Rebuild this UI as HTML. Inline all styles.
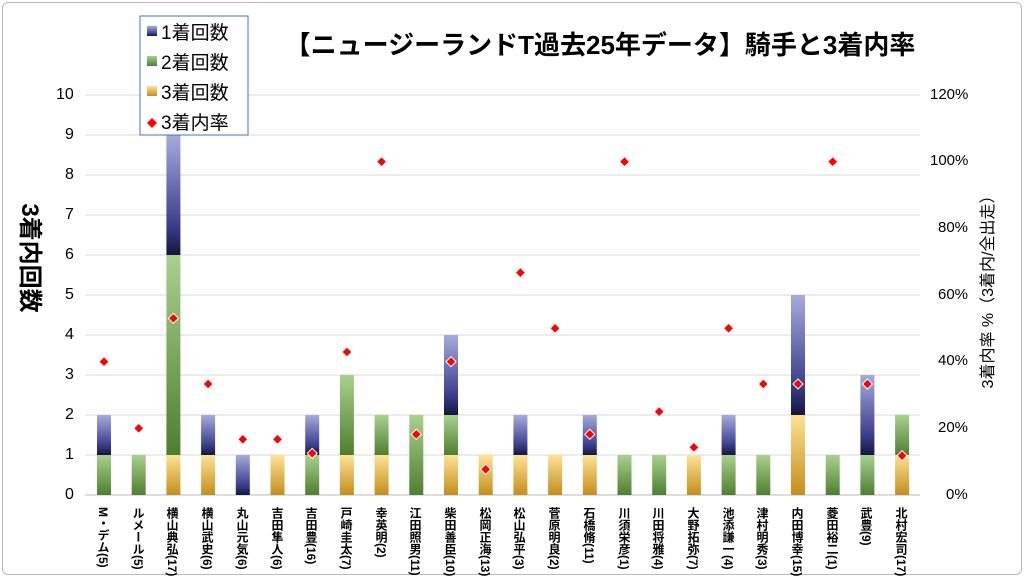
<!DOCTYPE html>
<html><head><meta charset="utf-8"><style>
body{margin:0;background:#fff;}
#w{position:relative;width:1024px;height:577px;overflow:hidden;font-family:"Liberation Sans","Noto Sans CJK JP",sans-serif;}
.fr{position:absolute;left:2px;top:2px;width:1018px;height:571px;border:1px solid #bbb;border-radius:6px;}
.lb{position:absolute;top:507px;writing-mode:vertical-rl;font-size:12px;font-weight:bold;line-height:14px;width:14px;color:#000;white-space:nowrap;}
.yl{position:absolute;font-size:16px;color:#000;}
.yr{position:absolute;font-size:15px;color:#000;}
</style></head><body><div id="w">
<div class="fr"></div>
<svg id="s" width="1024" height="577" style="position:absolute;left:0;top:0">
<defs>
<linearGradient id="g1" x1="0" y1="0" x2="0" y2="1"><stop offset="0" stop-color="#a6abdc"/><stop offset="0.75" stop-color="#3a3f8c"/><stop offset="1" stop-color="#15163e"/></linearGradient>
<linearGradient id="g2" x1="0" y1="0" x2="0" y2="1"><stop offset="0" stop-color="#a8d18e"/><stop offset="1" stop-color="#4e7e30"/></linearGradient>
<linearGradient id="g3" x1="0" y1="0" x2="0" y2="1"><stop offset="0" stop-color="#ffe294"/><stop offset="1" stop-color="#c38e1c"/></linearGradient>
</defs>
<g id="grid"></g><g id="bars"></g><g id="mk"></g>
<text x="600" y="54" font-size="26" font-weight="bold" text-anchor="middle" font-family="Liberation Sans,Noto Sans CJK JP,sans-serif">【ニュージーランドT過去25年データ】騎手と3着内率</text>
<text transform="translate(22,258) rotate(90)" font-size="24" font-weight="bold" text-anchor="middle" font-family="Liberation Sans,Noto Sans CJK JP,sans-serif">3着内回数</text>
<text transform="translate(993,288) rotate(-90)" font-size="16" text-anchor="middle" font-family="Liberation Sans,Noto Sans CJK JP,sans-serif">3着内率 %（3着内/全出走）</text>
<rect x="140" y="16" width="108" height="119" fill="#fff" stroke="#4472c4" stroke-width="1"/>
<rect x="147" y="26" width="10" height="10" fill="url(#g1)"/><text x="161" y="39" font-size="19" font-family="Liberation Sans,Noto Sans CJK JP,sans-serif">1着回数</text>
<rect x="147" y="56" width="10" height="10" fill="url(#g2)"/><text x="161" y="69" font-size="19" font-family="Liberation Sans,Noto Sans CJK JP,sans-serif">2着回数</text>
<rect x="147" y="86" width="10" height="10" fill="url(#g3)"/><text x="161" y="99" font-size="19" font-family="Liberation Sans,Noto Sans CJK JP,sans-serif">3着回数</text>
<polygon points="152,118 157,123 152,128 147,123" fill="#f00"/><text x="161" y="129" font-size="19" font-family="Liberation Sans,Noto Sans CJK JP,sans-serif">3着内率</text>
</svg>
<div class="yl" style="left:56px;top:86px">10</div>
<div class="yl" style="left:65px;top:126px">9</div>
<div class="yl" style="left:65px;top:166px">8</div>
<div class="yl" style="left:65px;top:206px">7</div>
<div class="yl" style="left:65px;top:246px">6</div>
<div class="yl" style="left:65px;top:286px">5</div>
<div class="yl" style="left:65px;top:326px">4</div>
<div class="yl" style="left:65px;top:366px">3</div>
<div class="yl" style="left:65px;top:406px">2</div>
<div class="yl" style="left:65px;top:446px">1</div>
<div class="yl" style="left:65px;top:486px">0</div>
<div class="yr" style="left:930px;top:86px">120%</div>
<div class="yr" style="left:930px;top:152px">100%</div>
<div class="yr" style="left:938px;top:219px">80%</div>
<div class="yr" style="left:938px;top:286px">60%</div>
<div class="yr" style="left:938px;top:352px">40%</div>
<div class="yr" style="left:938px;top:419px">20%</div>
<div class="yr" style="left:946px;top:486px">0%</div>
<div class="lb" style="left:96px">M・デム(5)</div>
<div class="lb" style="left:131px">ルメール(5)</div>
<div class="lb" style="left:165px">横山典弘(17)</div>
<div class="lb" style="left:200px">横山武史(6)</div>
<div class="lb" style="left:235px">丸山元気(6)</div>
<div class="lb" style="left:270px">吉田隼人(6)</div>
<div class="lb" style="left:304px">吉田豊(16)</div>
<div class="lb" style="left:339px">戸崎圭太(7)</div>
<div class="lb" style="left:374px">幸英明(2)</div>
<div class="lb" style="left:408px">江田照男(11)</div>
<div class="lb" style="left:443px">柴田善臣(10)</div>
<div class="lb" style="left:478px">松岡正海(13)</div>
<div class="lb" style="left:512px">松山弘平(3)</div>
<div class="lb" style="left:547px">菅原明良(2)</div>
<div class="lb" style="left:582px">石橋脩(11)</div>
<div class="lb" style="left:617px">川須栄彦(1)</div>
<div class="lb" style="left:651px">川田将雅(4)</div>
<div class="lb" style="left:686px">大野拓弥(7)</div>
<div class="lb" style="left:721px">池添謙一(4)</div>
<div class="lb" style="left:755px">津村明秀(3)</div>
<div class="lb" style="left:790px">内田博幸(15)</div>
<div class="lb" style="left:825px">菱田裕二(1)</div>
<div class="lb" style="left:859px">武豊(9)</div>
<div class="lb" style="left:894px">北村宏司(17)</div>
</div>
<script>
var d=[[0,1,1,40],[0,1,0,20],[1,5,3,53],[1,0,1,33.3],[0,0,1,16.7],[1,0,0,16.7],[0,1,1,12.5],[1,2,0,42.9],[1,1,0,100],[0,2,0,18.2],[1,1,2,40],[1,0,0,7.7],[1,0,1,66.7],[1,0,0,50],[1,0,1,18.2],[0,1,0,100],[0,1,0,25],[1,0,0,14.3],[0,1,1,50],[0,1,0,33.3],[2,0,3,33.3],[0,1,0,100],[0,1,2,33.3],[1,1,0,11.8]];
var ns="http://www.w3.org/2000/svg";
function el(p,t,a){var e=document.createElementNS(ns,t);for(var k in a)e.setAttribute(k,a[k]);document.getElementById(p).appendChild(e);}
for(var i=0;i<=10;i++)el("grid","line",{x1:85,x2:920,y1:95+i*40,y2:95+i*40,stroke:i==10?"#bbb":"#d9d9d9","stroke-width":1});
d.forEach(function(r,i){var cx=104+34.7*i,y=495;
[[r[0],"g3"],[r[1],"g2"],[r[2],"g1"]].forEach(function(s){if(s[0]>0){var h=s[0]*40;el("bars","rect",{x:cx-7,y:y-h,width:14,height:h,fill:"url(#"+s[1]+")"});y-=h;}});
var my=495-r[3]/120*400;
el("mk","polygon",{points:(cx)+","+(my-5)+" "+(cx+5)+","+my+" "+cx+","+(my+5)+" "+(cx-5)+","+my,fill:"#f00",stroke:"#fff","stroke-width":1});});
</script>
</body></html>
